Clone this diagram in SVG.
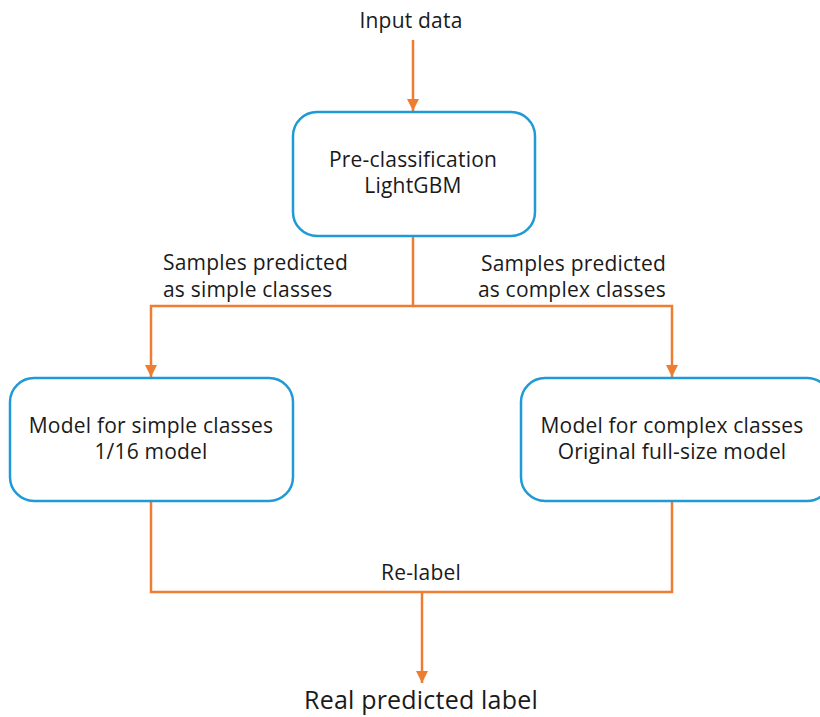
<svg xmlns="http://www.w3.org/2000/svg" width="820" height="717" viewBox="0 0 820 717">
<defs>
<style>
.t{font-family:"Open Sans","Liberation Sans",sans-serif;font-size:21px;letter-spacing:0.2px;fill:#1a1a1a}
.m{text-anchor:middle}
.e{text-anchor:end}
.box{fill:#fff;stroke:#1e9ad6;stroke-width:2.5}
.c{fill:none;stroke:#ed7d31;stroke-width:2.5}
</style>
<marker id="ah" viewBox="0 0 10 10" refX="10" refY="5" markerWidth="5" markerHeight="5" orient="auto" markerUnits="strokeWidth">
<path d="M0,0 L10,5 L0,10 z" fill="#ed7d31"/>
</marker>
</defs>
<rect width="820" height="717" fill="#fff"/>
<g id="connectors">
<line class="c" x1="413" y1="40" x2="413" y2="111" marker-end="url(#ah)"/>
<polyline class="c" points="413,236 413,306 151,306 151,377" marker-end="url(#ah)"/>
<polyline class="c" points="413,306 672,306 672,377" marker-end="url(#ah)"/>
<polyline class="c" points="151,501 151,592 672,592 672,501"/>
<line class="c" x1="422" y1="592" x2="422" y2="683" marker-end="url(#ah)"/>
</g>
<g id="input">
<text class="t m" x="411" y="28">Input data</text>
</g>
<g id="preclass">
<rect class="box" x="293" y="112" width="242" height="124" rx="24"/>
<text class="t m" x="413" y="167">Pre-classification</text>
<text class="t m" x="413" y="193">LightGBM</text>
</g>
<g id="label-simple">
<text class="t" x="163" y="270">Samples predicted</text>
<text class="t" x="163" y="297">as simple classes</text>
</g>
<g id="label-complex">
<text class="t e" x="666" y="271">Samples predicted</text>
<text class="t e" x="666" y="297">as complex classes</text>
</g>
<g id="simple">
<rect class="box" x="10" y="378" width="283" height="123" rx="24"/>
<text class="t m" x="151" y="433">Model for simple classes</text>
<text class="t m" x="151" y="459">1/16 model</text>
</g>
<g id="complex">
<rect class="box" x="521" y="378" width="310" height="123" rx="24"/>
<text class="t m" x="672" y="433">Model for complex classes</text>
<text class="t m" x="672" y="459">Original full-size model</text>
</g>
<g id="relabel">
<text class="t m" x="421" y="580">Re-label</text>
</g>
<g id="output">
<text class="t m" x="421" y="709" style="font-size:25px">Real predicted label</text>
</g>
</svg>
